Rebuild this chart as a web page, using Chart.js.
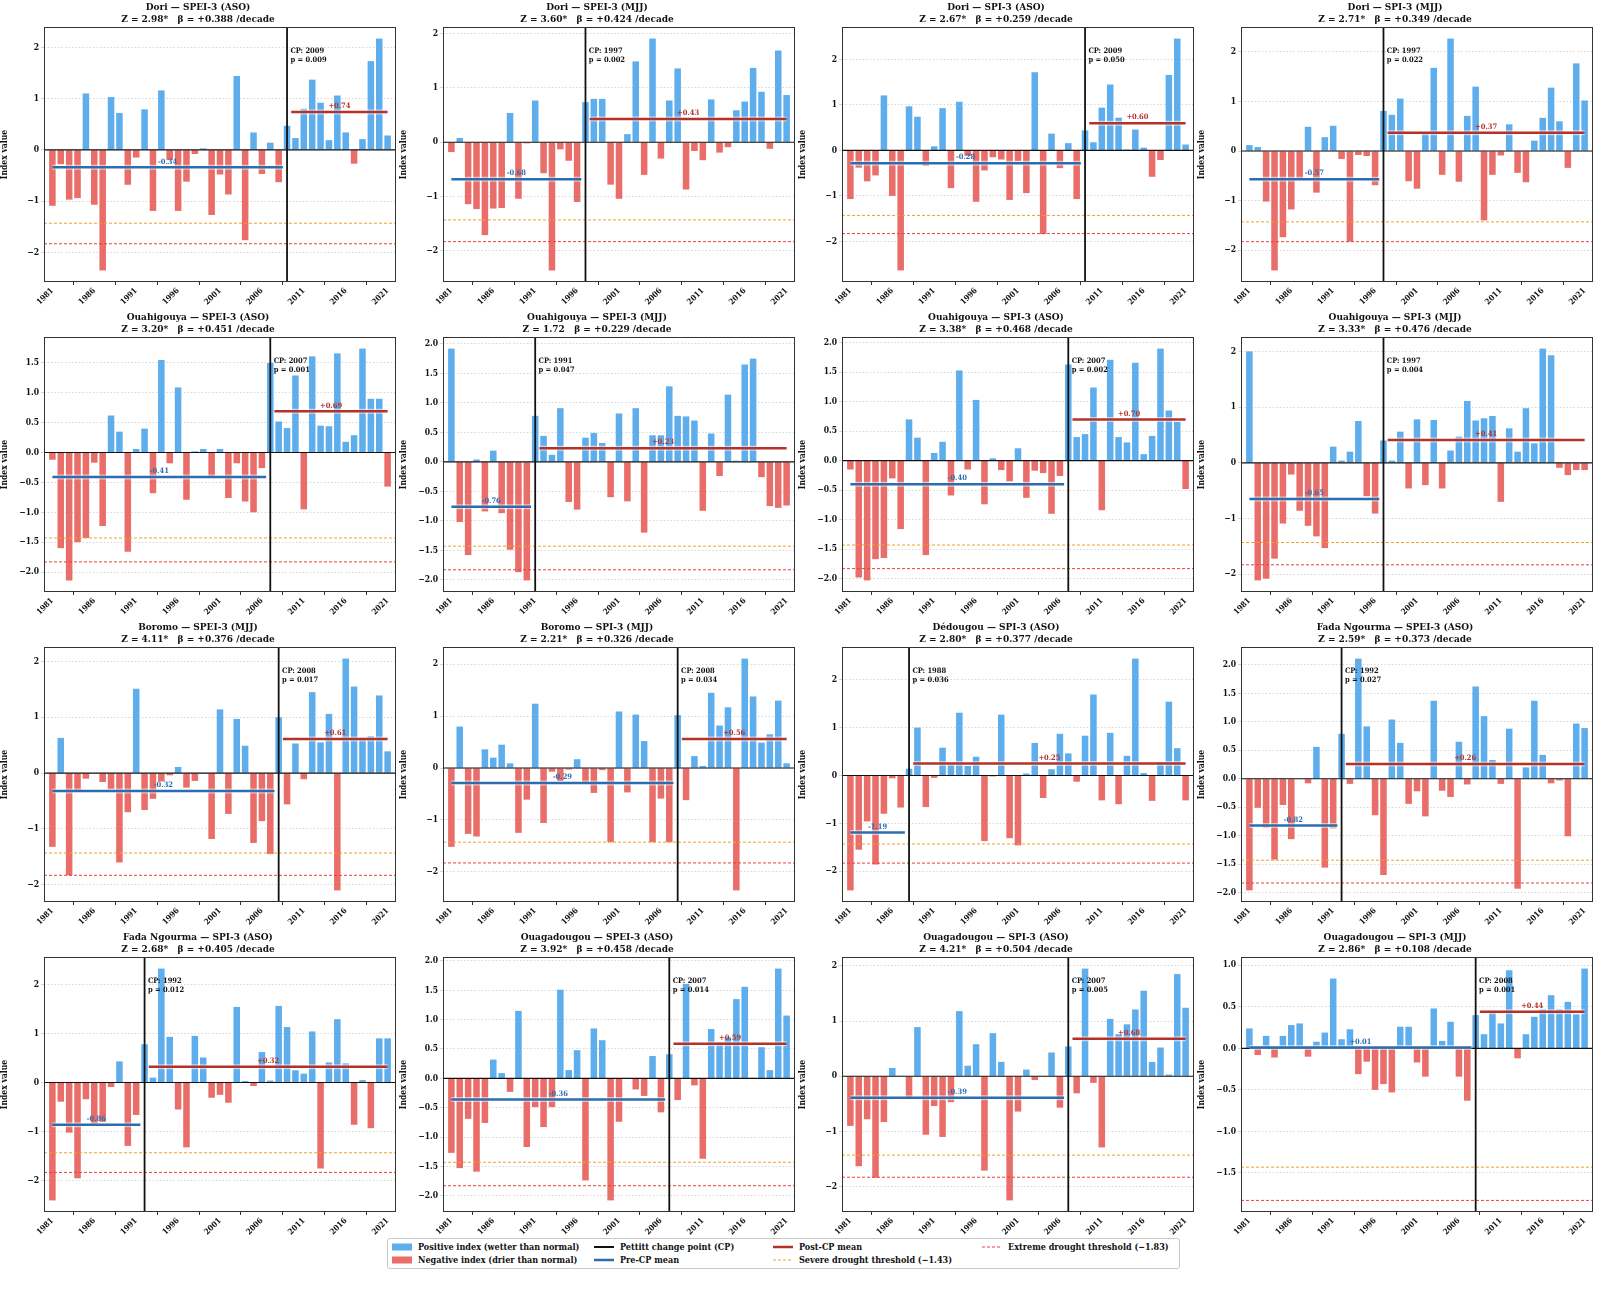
<!DOCTYPE html>
<html lang="en">
<head>
<meta charset="utf-8">
<title>SPEI / SPI change points - Burkina Faso stations</title>
<script src="https://cdn.jsdelivr.net/npm/chart.js@4.4.1/dist/chart.umd.min.js"></script>
<style>
  body { margin: 0; background: #ffffff; }
  #figure { position: relative; width: 1599px; height: 1299px; overflow: hidden; background: #ffffff; }
  .panel { position: absolute; }
  #legend {
    position: absolute; left: 387px; top: 1238px; width: 793px; height: 31px;
    border: 1px solid #c8c8c8; border-radius: 3px; box-sizing: border-box; background: #fff;
    font-family: 'DejaVu Serif Condensed', 'DejaVu Serif', serif; font-weight: bold; font-size: 9px; color: #111;
  }
  .leg-item { position: absolute; display: flex; align-items: center; white-space: nowrap; height: 12px; }
  .leg-item .sw { width: 20px; height: 8px; margin-right: 6px; flex: none; display: block; }
</style>
</head>
<body>
<div id="figure">
  <div id="legend">
    <div class="leg-item" style="left:4px;top:2px"><svg class="sw"><rect x="0" y="0.5" width="20" height="7" fill="#5eaeee"/></svg>Positive index (wetter than normal)</div>
    <div class="leg-item" style="left:4px;top:15px"><svg class="sw"><rect x="0" y="0.5" width="20" height="7" fill="#e96d69"/></svg>Negative index (drier than normal)</div>
    <div class="leg-item" style="left:206px;top:2px"><svg class="sw"><line x1="0" y1="4" x2="20" y2="4" stroke="#111" stroke-width="2"/></svg>Pettitt change point (CP)</div>
    <div class="leg-item" style="left:206px;top:15px"><svg class="sw"><line x1="0" y1="4" x2="20" y2="4" stroke="#2c6ead" stroke-width="2.5"/></svg>Pre-CP mean</div>
    <div class="leg-item" style="left:385px;top:2px"><svg class="sw"><line x1="0" y1="4" x2="20" y2="4" stroke="#b5322a" stroke-width="2.5"/></svg>Post-CP mean</div>
    <div class="leg-item" style="left:385px;top:15px"><svg class="sw"><line x1="0" y1="4" x2="20" y2="4" stroke="#f0a030" stroke-width="1.2" stroke-dasharray="3 2"/></svg>Severe drought threshold (−1.43)</div>
    <div class="leg-item" style="left:594px;top:2px"><svg class="sw"><line x1="0" y1="4" x2="20" y2="4" stroke="#e8403a" stroke-width="1.2" stroke-dasharray="3 2"/></svg>Extreme drought threshold (−1.83)</div>
  </div>
</div>

<script>
// ---- data ----
const years = [1981, 1982, 1983, 1984, 1985, 1986, 1987, 1988, 1989, 1990,
               1991, 1992, 1993, 1994, 1995, 1996, 1997, 1998, 1999, 2000,
               2001, 2002, 2003, 2004, 2005, 2006, 2007, 2008, 2009, 2010,
               2011, 2012, 2013, 2014, 2015, 2016, 2017, 2018, 2019, 2020, 2021];
const xTickYears = [1981, 1986, 1991, 1996, 2001, 2006, 2011, 2016, 2021];

const SEVERE = -1.43;
const EXTREME = -1.83;

// panels, left to right, top to bottom
const panelTitles = [
  "Dori — SPEI-3 (ASO)", "Dori — SPEI-3 (MJJ)", "Dori — SPI-3 (ASO)", "Dori — SPI-3 (MJJ)",
  "Ouahigouya — SPEI-3 (ASO)", "Ouahigouya — SPEI-3 (MJJ)", "Ouahigouya — SPI-3 (ASO)", "Ouahigouya — SPI-3 (MJJ)",
  "Boromo — SPEI-3 (MJJ)", "Boromo — SPI-3 (MJJ)", "Dédougou — SPI-3 (ASO)", "Fada Ngourma — SPEI-3 (ASO)",
  "Fada Ngourma — SPI-3 (ASO)", "Ouagadougou — SPEI-3 (ASO)", "Ouagadougou — SPI-3 (ASO)", "Ouagadougou — SPI-3 (MJJ)"
];
const zScores = ["2.98*", "3.60*", "2.67*", "2.71*", "3.20*", "1.72", "3.38*", "3.33*",
                 "4.11*", "2.21*", "2.80*", "2.59*", "2.68*", "3.92*", "4.21*", "2.86*"];
const betas = ["+0.388", "+0.424", "+0.259", "+0.349", "+0.451", "+0.229", "+0.468", "+0.476",
               "+0.376", "+0.326", "+0.377", "+0.373", "+0.405", "+0.458", "+0.504", "+0.108"];
const cpYears = [2009, 1997, 2009, 1997, 2007, 1991, 2007, 1997, 2008, 2008, 1988, 1992, 1992, 2007, 2007, 2008];
const pValues = ["0.009", "0.002", "0.050", "0.022", "0.001", "0.047", "0.002", "0.004",
                 "0.017", "0.034", "0.036", "0.027", "0.012", "0.014", "0.005", "0.001"];
const preMeans = [-0.34, -0.68, -0.28, -0.57, -0.41, -0.76, -0.40, -0.65, -0.32, -0.29, -1.19, -0.82, -0.86, -0.36, -0.39, 0.01];
const postMeans = [0.74, 0.43, 0.60, 0.37, 0.69, 0.23, 0.70, 0.41, 0.61, 0.56, 0.25, 0.26, 0.32, 0.59, 0.68, 0.44];
const yTickSteps = [1, 1, 1, 1, 0.5, 0.5, 0.5, 1, 1, 1, 1, 0.5, 1, 0.5, 1, 0.5];

const doriSpeiAso = [-1.09, -0.28, -0.97, -0.94, 1.10, -1.07, -2.35, 1.03, 0.72, -0.68,
                     -0.15, 0.79, -1.19, 1.16, -0.20, -1.19, -0.62, -0.08, 0.03, -1.27,
                     -0.48, -0.87, 1.44, -1.76, 0.34, -0.47, 0.14, -0.63, 0.47, 0.23,
                     0.80, 1.37, 0.92, 0.19, 1.06, 0.34, -0.27, 0.21, 1.73, 2.17, 0.28];
const doriSpeiMjj = [-0.18, 0.08, -1.14, -1.23, -1.71, -1.22, -1.21, 0.54, -1.04, -0.02,
                     0.77, -0.57, -2.36, -0.13, -0.34, -1.10, 0.74, 0.80, 0.80, -0.78,
                     -1.04, 0.15, 1.49, -0.60, 1.91, -0.30, 0.77, 1.36, -0.87, -0.16,
                     -0.33, 0.79, -0.19, -0.09, 0.59, 0.75, 1.37, 0.93, -0.12, 1.69, 0.87];
const doriSpiAso = [-1.07, -0.38, -0.68, -0.55, 1.21, -1.00, -2.64, 0.97, 0.74, -0.34,
                    0.09, 0.93, -0.83, 1.07, -0.12, -1.13, -0.44, -0.15, -0.20, -1.09,
                    -0.24, -0.94, 1.72, -1.84, 0.37, -0.39, 0.16, -1.07, 0.44, 0.18,
                    0.94, 1.45, 0.72, 0.02, 0.46, 0.06, -0.58, -0.21, 1.66, 2.46, 0.13];
const doriSpiMjj = [0.12, 0.08, -1.02, -2.41, -1.74, -1.18, -0.55, 0.49, -0.84, 0.28,
                    0.51, -0.16, -1.83, -0.08, -0.10, -0.69, 0.81, 0.73, 1.06, -0.61,
                    -0.76, 0.37, 1.68, -0.48, 2.27, -0.62, 0.71, 1.30, -1.40, -0.48,
                    -0.09, 0.54, -0.44, -0.63, 0.21, 0.67, 1.28, 0.60, -0.34, 1.77, 1.02];
const ouahSpeiAso = [-0.12, -1.60, -2.14, -1.50, -1.43, -0.17, -1.23, 0.62, 0.35, -1.66,
                     0.06, 0.40, -0.68, 1.55, -0.18, 1.09, -0.79, 0.02, 0.06, -0.42,
                     0.06, -0.76, -0.18, -0.82, -1.00, -0.26, 1.50, 0.52, 0.41, 1.29,
                     -0.95, 1.61, 0.45, 0.44, 1.66, 0.18, 0.29, 1.74, 0.90, 0.90, -0.57];
const ouahSpeiMjj = [1.92, -1.02, -1.58, 0.04, -0.84, 0.19, -0.87, -1.49, -1.87, -2.01,
                     0.78, 0.44, 0.12, 0.91, -0.68, -0.81, 0.41, 0.49, 0.32, -0.60,
                     0.82, -0.67, 0.91, -1.20, 0.45, 0.45, 1.28, 0.78, 0.77, 0.70,
                     -0.83, 0.48, -0.24, 1.14, 0.02, 1.65, 1.75, -0.26, -0.75, -0.78, -0.74];
const ouahSpiAso = [-0.15, -1.98, -2.03, -1.67, -1.65, -0.30, -1.16, 0.70, 0.39, -1.60,
                    0.13, 0.32, -0.59, 1.53, -0.15, 1.03, -0.74, 0.04, -0.16, -0.35,
                    0.21, -0.63, -0.17, -0.21, -0.90, -0.26, 1.63, 0.40, 0.45, 1.24,
                    -0.84, 1.71, 0.40, 0.31, 1.66, 0.11, 0.42, 1.90, 0.85, 0.66, -0.48];
const ouahSpiMjj = [2.00, -2.11, -2.08, -1.72, -1.09, -0.21, -0.86, -1.13, -1.32, -1.53,
                    0.29, 0.04, 0.20, 0.75, -0.60, -0.91, 0.40, 0.04, 0.56, -0.46,
                    0.78, -0.40, 0.77, -0.46, 0.22, 0.47, 1.11, 0.76, 0.80, 0.84,
                    -0.70, 0.62, 0.20, 0.98, 0.35, 2.05, 1.93, -0.09, -0.22, -0.13, -0.13];
const boromoSpeiMjj = [-1.32, 0.63, -1.83, -0.32, -0.10, null, -0.16, -0.29, -1.60, -0.70,
                       1.51, -0.66, -0.46, -0.15, -0.04, 0.11, -0.26, -0.14, null, -1.18,
                       1.14, -0.73, 0.97, 0.49, -1.25, -0.86, -1.45, 1.00, -0.56, 0.53,
                       -0.11, 1.45, 0.55, 1.06, -2.10, 2.05, 1.55, 0.60, 0.66, 1.39, 0.39];
const boromoSpiMjj = [-1.52, 0.80, -1.27, -1.32, 0.36, 0.20, 0.45, 0.09, -1.25, -0.61,
                      1.24, -1.06, -0.07, -0.25, -0.03, 0.17, -0.28, -0.48, -0.04, -1.43,
                      1.09, -0.47, 1.03, 0.52, -1.43, -0.59, -1.43, 1.02, -0.62, 0.23,
                      0.04, 1.45, 0.82, 1.17, -2.36, 2.11, 1.38, 0.49, 0.65, 1.30, 0.09];
const dedougouSpiAso = [-2.40, -1.55, -0.96, -1.86, -0.80, -0.06, -0.67, 0.14, 1.00, -0.66,
                        -0.05, 0.58, 0.23, 1.31, 0.20, 0.39, -1.37, -0.02, 1.27, -1.31,
                        -1.46, 0.04, 0.68, -0.47, 0.13, 0.87, 0.46, -0.13, 0.83, 1.69,
                        -0.52, 0.89, -0.60, 0.41, 2.44, 0.05, -0.53, 0.28, 1.54, 0.57, -0.52];
const fadaSpeiAso = [-1.96, -0.51, -0.86, -1.42, -0.46, -1.06, null, -0.08, 0.56, -1.56,
                     -0.87, 0.79, -0.09, 2.11, 0.92, -0.64, -1.69, 1.04, 0.63, -0.44,
                     -0.22, -0.66, 1.37, -0.21, -0.32, 0.65, -0.10, 1.62, 1.10, 0.33,
                     -0.09, 0.88, -1.93, 0.20, 1.37, 0.42, -0.08, -0.03, -1.01, 0.97, 0.89];
const fadaSpiAso = [-2.40, -0.39, -1.02, -1.95, -0.34, -0.84, -0.80, -0.09, 0.43, -1.29,
                    -0.66, 0.78, 0.10, 2.32, 0.93, -0.55, -1.32, 0.95, 0.51, -0.31,
                    -0.25, -0.41, 1.54, 0.03, -0.07, 0.62, 0.04, 1.56, 1.13, 0.25,
                    0.18, 1.04, -1.75, 0.41, 1.29, 0.39, -0.86, 0.05, -0.93, 0.90, 0.90];
const ouagaSpeiAso = [-1.27, -1.53, -0.69, -1.59, -0.76, 0.32, 0.09, -0.23, 1.15, -1.17,
                      -0.49, -0.83, -0.49, 1.51, 0.14, 0.48, -1.74, 0.85, 0.65, -2.08,
                      -0.74, null, -0.19, -0.30, 0.38, -0.58, 0.41, -0.37, 1.61, -0.12,
                      -1.37, 0.84, 0.62, 0.70, 1.35, 1.56, 0.01, 0.53, 0.14, 1.87, 1.07];
const ouagaSpiAso = [-0.90, -1.63, -0.78, -1.84, -0.83, 0.15, 0.01, -0.38, 0.89, -1.06,
                     -0.54, -1.10, -0.47, 1.18, 0.19, 0.58, -1.71, 0.78, 0.26, -2.25,
                     -0.64, 0.12, -0.07, -0.01, 0.43, -0.57, 0.54, -0.31, 1.95, -0.12,
                     -1.29, 1.04, 0.76, 0.94, 1.21, 1.55, 0.26, 0.52, 0.03, 1.85, 1.24];
const ouagaSpiMjj = [0.24, -0.08, 0.15, -0.11, 0.15, 0.28, 0.30, -0.10, 0.08, 0.19,
                     0.84, 0.11, 0.23, -0.31, -0.16, -0.50, -0.43, -0.53, 0.26, 0.26,
                     -0.17, -0.34, 0.48, 0.09, 0.32, -0.34, -0.63, 0.40, 0.17, 0.43,
                     0.30, 0.94, -0.12, 0.17, 0.38, 0.47, 0.64, 0.47, 0.56, 0.41, 0.96];

const seriesList = [doriSpeiAso, doriSpeiMjj, doriSpiAso, doriSpiMjj,
                    ouahSpeiAso, ouahSpeiMjj, ouahSpiAso, ouahSpiMjj,
                    boromoSpeiMjj, boromoSpiMjj, dedougouSpiAso, fadaSpeiAso,
                    fadaSpiAso, ouagaSpeiAso, ouagaSpiAso, ouagaSpiMjj];

// ---- layout / style ----
const FONT = "'DejaVu Serif Condensed', 'DejaVu Serif', serif";
const POS_COLOR = '#5eaeee';
const NEG_COLOR = '#e96d69';
const PRE_COLOR = '#2c6ead';
const POST_COLOR = '#b5322a';
const SEVERE_COLOR = '#f0a030';
const EXTREME_COLOR = '#e8403a';
const HALO = 'rgba(255,255,255,0.55)';

const axLefts = [44, 443, 842, 1241];   // plot-area left edge for each column
const axTops = [27, 337, 647, 957];     // plot-area top edge for each row
const AX_W = 352, AX_H = 255;
const Y_AXIS_W = 44, X_AXIS_H = 32, TITLE_H = 27, RIGHT_PAD = 3;

function fmtSigned(v) {
  return (v >= 0 ? '+' : '-') + Math.abs(v).toFixed(2);
}

// frame, CP text and mean labels
const annotatePlugin = {
  id: 'annotate',
  afterDatasetsDraw(chart, args, opts) {
    const { ctx, chartArea: a } = chart;
    const x = chart.scales.x, y = chart.scales.y;
    ctx.save();

    // Pettitt change point text
    ctx.font = `bold 7.5px ${FONT}`;
    ctx.fillStyle = '#111';
    ctx.textAlign = 'left';
    ctx.textBaseline = 'top';
    const tx = x.getPixelForValue(opts.cp + 0.4);
    const ty = a.top + 0.08 * (a.bottom - a.top);
    ctx.fillText('CP: ' + opts.cp, tx, ty);
    ctx.fillText('p = ' + opts.p, tx, ty + 8.5);

    // mean labels, centred above each segment
    ctx.textAlign = 'center';
    ctx.textBaseline = 'bottom';
    ctx.fillStyle = PRE_COLOR;
    ctx.fillText(fmtSigned(opts.pre), x.getPixelForValue((years[0] + opts.cp - 0.5) / 2), y.getPixelForValue(opts.pre) - 2);
    ctx.fillStyle = POST_COLOR;
    ctx.fillText(fmtSigned(opts.post), x.getPixelForValue((opts.cp + 0.5 + years[years.length - 1]) / 2), y.getPixelForValue(opts.post) - 2);

    // axes box
    ctx.strokeStyle = '#333';
    ctx.lineWidth = 1;
    ctx.strokeRect(a.left + 0.5, a.top + 0.5, a.right - a.left - 1, a.bottom - a.top - 1);
    ctx.restore();
  }
};

function hLine(y0, x0, x1) {
  return [{ x: x0, y: y0 }, { x: x1, y: y0 }];
}

function buildPanel(idx) {
  const vals = seriesList[idx];
  const cp = cpYears[idx];
  const step = yTickSteps[idx];
  const row = Math.floor(idx / 4), col = idx % 4;

  // y limits like matplotlib: data + thresholds, 5 % margin
  const finite = vals.filter(v => v !== null);
  const lo = Math.min(Math.min(...finite), EXTREME);
  const hi = Math.max(...finite);
  const pad = 0.05 * (hi - lo);
  const yMin = lo - pad, yMax = hi + pad;

  const holder = document.createElement('div');
  holder.className = 'panel';
  holder.style.left = (axLefts[col] - Y_AXIS_W) + 'px';
  holder.style.top = (axTops[row] - TITLE_H) + 'px';
  const canvas = document.createElement('canvas');
  canvas.width = Y_AXIS_W + AX_W + RIGHT_PAD;
  canvas.height = TITLE_H + AX_H + X_AXIS_H;
  holder.appendChild(canvas);
  document.getElementById('figure').appendChild(holder);

  const xMin = years[0] - 1, xMax = years[years.length - 1] + 1;
  const preSeg = hLine(preMeans[idx], years[0], cp - 0.5);
  const postSeg = hLine(postMeans[idx], cp + 0.5, years[years.length - 1]);

  new Chart(canvas.getContext('2d'), {
    type: 'bar',
    data: {
      datasets: [
        {
          type: 'bar',
          data: years.map((yr, i) => ({ x: yr, y: vals[i] })),
          backgroundColor: vals.map(v => (v !== null && v >= 0) ? POS_COLOR : NEG_COLOR),
          barPercentage: 0.78,
          categoryPercentage: 1.0,
          grouped: false,
          order: 10
        },
        { type: 'line', data: hLine(0, xMin, xMax), borderColor: '#111', borderWidth: 1.1, pointRadius: 0, order: 4 },
        { type: 'line', data: hLine(SEVERE, xMin, xMax), borderColor: SEVERE_COLOR, borderWidth: 1, borderDash: [3, 2], pointRadius: 0, order: 4 },
        { type: 'line', data: hLine(EXTREME, xMin, xMax), borderColor: EXTREME_COLOR, borderWidth: 1, borderDash: [3, 2], pointRadius: 0, order: 4 },
        // light halo under the mean segments
        { type: 'line', data: preSeg, borderColor: HALO, borderWidth: 5, pointRadius: 0, order: 3 },
        { type: 'line', data: postSeg, borderColor: HALO, borderWidth: 5, pointRadius: 0, order: 3 },
        { type: 'line', data: preSeg, borderColor: PRE_COLOR, borderWidth: 2.5, pointRadius: 0, order: 2 },
        { type: 'line', data: postSeg, borderColor: POST_COLOR, borderWidth: 2.5, pointRadius: 0, order: 2 },
        { type: 'line', data: [{ x: cp, y: yMin }, { x: cp, y: yMax }], borderColor: '#111', borderWidth: 1.8, pointRadius: 0, order: 1 }
      ]
    },
    options: {
      responsive: false,
      animation: false,
      events: [],
      layout: { padding: { left: 0, right: RIGHT_PAD, top: 0, bottom: 0 } },
      plugins: {
        legend: { display: false },
        tooltip: { enabled: false },
        title: {
          display: true,
          text: [panelTitles[idx], `Z = ${zScores[idx]}   β = ${betas[idx]} /decade`],
          color: '#111',
          font: { family: FONT, size: 10, weight: 'bold', lineHeight: 1.15 },
          padding: { top: 2, bottom: 2 }
        },
        annotate: { cp: cp, p: pValues[idx], pre: preMeans[idx], post: postMeans[idx] }
      },
      scales: {
        x: {
          type: 'linear',
          min: xMin,
          max: xMax,
          offset: false,
          afterBuildTicks: scale => { scale.ticks = xTickYears.map(v => ({ value: v })); },
          afterFit: scale => { scale.height = X_AXIS_H; },
          ticks: {
            callback: v => String(v),
            minRotation: 45,
            maxRotation: 45,
            padding: 1,
            color: '#111',
            font: { family: FONT, size: 8, weight: 'bold' }
          },
          grid: { drawOnChartArea: false, drawTicks: true, tickLength: 3, color: '#333' },
          border: { display: false }
        },
        y: {
          type: 'linear',
          min: yMin,
          max: yMax,
          afterBuildTicks: scale => {
            const ticks = [];
            for (let k = Math.ceil(yMin / step); k * step <= yMax; k++) ticks.push({ value: k * step });
            scale.ticks = ticks;
          },
          afterFit: scale => { scale.width = Y_AXIS_W; },
          ticks: {
            callback: v => {
              const s = step < 1 ? Math.abs(v).toFixed(1) : String(Math.abs(Math.round(v)));
              return (v < -1e-9 ? '−' : '') + s;
            },
            padding: 2,
            color: '#111',
            font: { family: FONT, size: 8.5, weight: 'bold' }
          },
          grid: { color: 'rgba(0,0,0,0.2)', lineWidth: 0.8, tickLength: 3, drawTicks: true },
          border: { display: false, dash: [1.5, 2] },
          title: {
            display: true,
            text: 'Index value',
            color: '#111',
            padding: { top: 0, bottom: 1 },
            font: { family: FONT, size: 8.5, weight: 'bold' }
          }
        }
      }
    },
    plugins: [annotatePlugin]
  });
}

document.addEventListener("DOMContentLoaded", function () {
  for (let i = 0; i < seriesList.length; i++) {
    buildPanel(i);
  }
  console.log("Rendered", seriesList.length, "panels");
});
</script>
</body>
</html>
